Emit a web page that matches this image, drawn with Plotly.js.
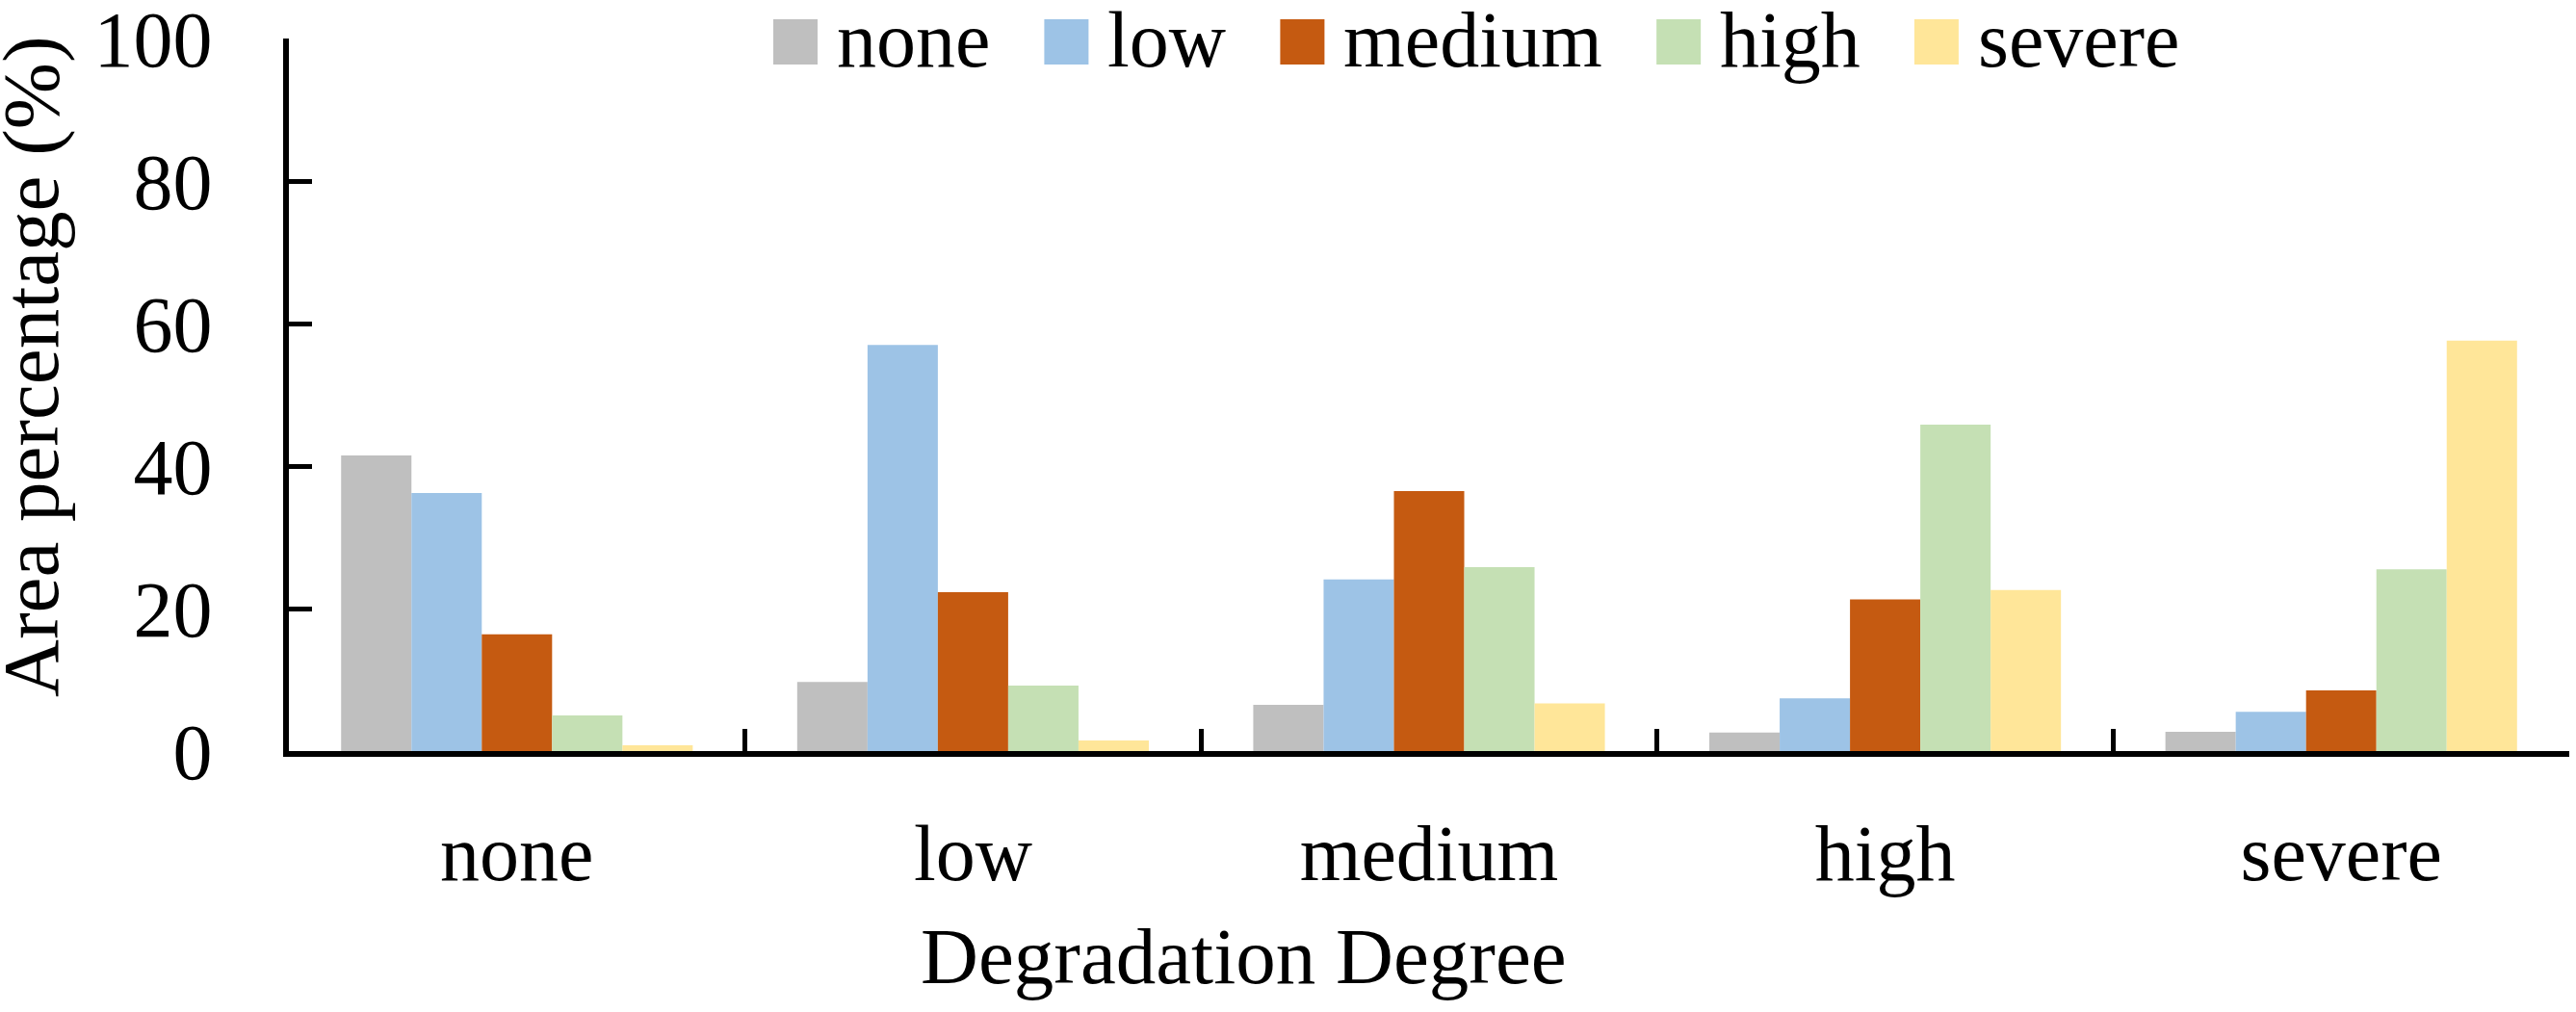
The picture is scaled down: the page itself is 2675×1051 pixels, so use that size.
<!DOCTYPE html>
<html>
<head>
<meta charset="utf-8">
<script src="https://cdn.plot.ly/plotly-3.0.1.min.js"></script>
<style>
html,body{margin:0;padding:0;background:#fff;}
#chart{width:2675px;height:1051px;}
</style>
</head>
<body>
<div id="chart"></div>
<script>
// ---- data ----
var categories = ['none', 'low', 'medium', 'high', 'severe'];
var seriesNames = ['none', 'low', 'medium', 'high', 'severe'];
var noneVals   = [41.5, 9.7, 6.5, 2.6, 2.7];
var lowVals    = [36.2, 57.0, 24.1, 7.4, 5.5];
var mediumVals = [16.4, 22.3, 36.5, 21.3, 8.5];
var highVals   = [5.0, 9.2, 25.8, 45.8, 25.5];
var severeVals = [0.8, 1.5, 6.7, 22.6, 57.6];
var yTickVals  = [0, 20, 40, 60, 80, 100];
var xTitle = 'Degradation Degree';
var yTitle = 'Area percentage (%)';

// ---- styles ----
var colors = ['#BFBFBF', '#9DC3E6', '#C55A11', '#C5E0B4', '#FFE699'];
var FONT = "'Liberation Serif', 'Times New Roman', serif";
var W = 2675, H = 1051;
var M = {l: 300, r: 7, t: 40, b: 271};
var PW = W - M.l - M.r, PH = H - M.t - M.b;
function px2x(px) { return (px - M.l) / PW; }
function py2y(py) { return (H - M.b - py) / PH; }

var allVals = [noneVals, lowVals, mediumVals, highVals, severeVals];
var traces = seriesNames.map(function (name, i) {
  return {
    type: 'bar',
    name: name,
    x: categories,
    y: allVals[i],
    marker: {color: colors[i], line: {width: 0}},
    showlegend: false,
    hoverinfo: 'x+y+name'
  };
});

// ---- custom legend (large square swatches) ----
var canvas = document.createElement('canvas');
var ctx = canvas.getContext('2d');
var legendFontSize = 82;
ctx.font = legendFontSize + "px 'Liberation Serif'";
var shapes = [], annotations = [];
var cursor = 803;
var sqW = 46, sqTop = 20, sqBot = 67;
seriesNames.forEach(function (name, i) {
  shapes.push({
    type: 'rect', xref: 'paper', yref: 'paper',
    x0: px2x(cursor), x1: px2x(cursor + sqW),
    y0: py2y(sqBot), y1: py2y(sqTop),
    fillcolor: colors[i], line: {width: 0}, layer: 'above'
  });
  var tx = cursor + sqW + 18;
  annotations.push({
    xref: 'paper', yref: 'paper', x: px2x(tx), y: py2y(42),
    xanchor: 'left', yanchor: 'middle', showarrow: false,
    text: name, font: {family: FONT, size: legendFontSize, color: '#000'}
  });
  cursor = tx + ctx.measureText(name).width + 58;
});

// axis titles placed as annotations to match the reference positions
annotations.push({
  xref: 'paper', yref: 'paper', x: px2x(1291), y: py2y(993),
  xanchor: 'center', yanchor: 'middle', showarrow: false,
  text: xTitle, font: {family: FONT, size: 83, color: '#000'}
});
annotations.push({
  xref: 'paper', yref: 'paper', x: px2x(32), y: py2y(381),
  xanchor: 'center', yanchor: 'middle', showarrow: false, textangle: -90,
  text: yTitle, font: {family: FONT, size: 83, color: '#000'}
});

var layout = {
  width: W, height: H,
  margin: M,
  paper_bgcolor: '#fff', plot_bgcolor: '#fff',
  barmode: 'group',
  bargap: 0.229,
  bargroupgap: 0,
  showlegend: false,
  font: {family: FONT, size: 82, color: '#000'},
  xaxis: {
    type: 'category',
    range: [-0.5, 4.5],
    showline: true, linecolor: '#000', linewidth: 6,
    ticks: 'inside', tickson: 'boundaries', ticklen: 23, tickwidth: 5, tickcolor: '#000',
    showgrid: false, zeroline: false,
    tickfont: {family: FONT, size: 82, color: '#000'},
    ticklabelstandoff: 30
  },
  yaxis: {
    range: [0, 100],
    tickvals: yTickVals,
    ticktext: yTickVals.map(String),
    showline: true, linecolor: '#000', linewidth: 6,
    ticks: 'inside', ticklen: 24, tickwidth: 5, tickcolor: '#000',
    showgrid: false, zeroline: false,
    tickfont: {family: FONT, size: 82, color: '#000'},
    ticklabelstandoff: 57,
    ticklabeloverflow: 'allow'
  },
  shapes: shapes,
  annotations: annotations
};

Plotly.newPlot('chart', traces, layout, {staticPlot: true, displayModeBar: false});
</script>
</body>
</html>
